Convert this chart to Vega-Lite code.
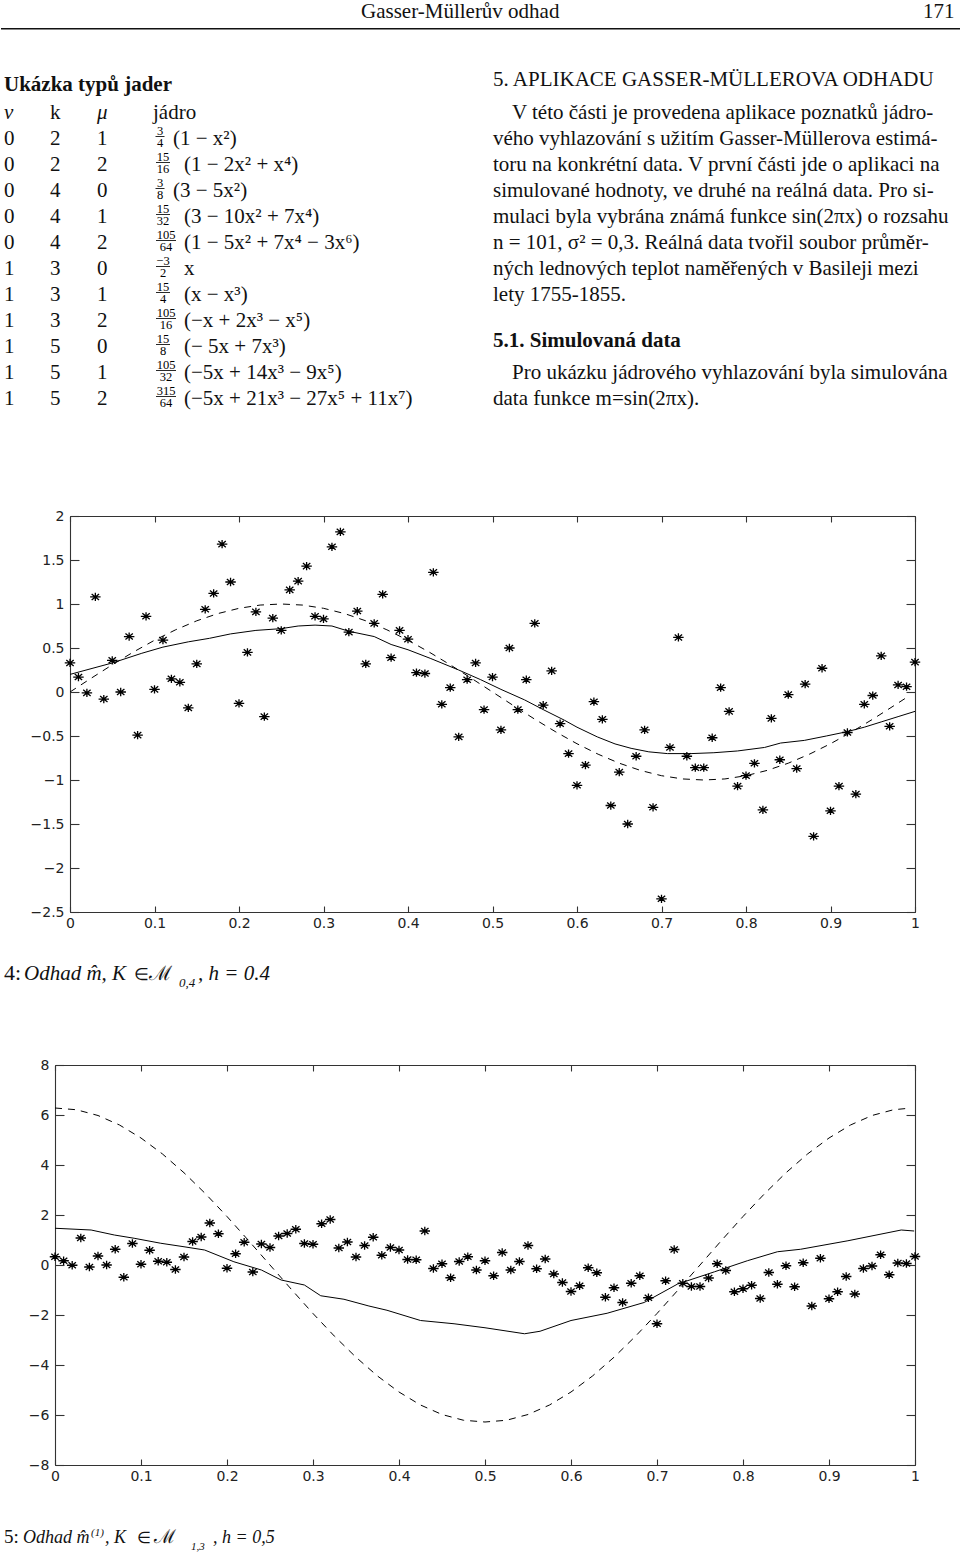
{
  "$schema": "https://vega.github.io/schema/vega-lite/v6.json",
  "padding": 0,
  "background": "white",
  "spacing": 0,
  "bounds": "flush",
  "config": {
    "view": {"stroke": null},
    "text": {"font": "Liberation Serif", "color": "#111"},
    "axis": {"grid": false, "title": null, "domainColor": "#333", "tickColor": "#333", "labelFont": "DejaVu Sans", "labelFontSize": 14, "labelColor": "#222", "labelFlush": false, "labelOverlap": false, "labelBound": false, "domainWidth": 1.1, "tickWidth": 1.1},
    "axisX": {"tickSize": -6, "labelPadding": 10},
    "axisY": {"tickSize": -9, "labelPadding": 15}
  },
  "datasets": {
    "obs": [
      {"x":0.00,"y":0.33},{"x":0.01,"y":0.17},{"x":0.02,"y":-0.01},{"x":0.03,"y":1.08},{"x":0.04,"y":-0.08},
      {"x":0.05,"y":0.36},{"x":0.06,"y":0.00},{"x":0.07,"y":0.63},{"x":0.08,"y":-0.49},{"x":0.09,"y":0.86},
      {"x":0.10,"y":0.03},{"x":0.11,"y":0.59},{"x":0.12,"y":0.15},{"x":0.13,"y":0.11},{"x":0.14,"y":-0.18},
      {"x":0.15,"y":0.32},{"x":0.16,"y":0.94},{"x":0.17,"y":1.12},{"x":0.18,"y":1.68},{"x":0.19,"y":1.25},
      {"x":0.20,"y":-0.13},{"x":0.21,"y":0.45},{"x":0.22,"y":0.91},{"x":0.23,"y":-0.28},{"x":0.24,"y":0.84},
      {"x":0.25,"y":0.70},{"x":0.26,"y":1.16},{"x":0.27,"y":1.26},{"x":0.28,"y":1.43},{"x":0.29,"y":0.86},
      {"x":0.30,"y":0.83},{"x":0.31,"y":1.65},{"x":0.32,"y":1.82},{"x":0.33,"y":0.68},{"x":0.34,"y":0.92},
      {"x":0.35,"y":0.32},{"x":0.36,"y":0.78},{"x":0.37,"y":1.11},{"x":0.38,"y":0.39},{"x":0.39,"y":0.70},
      {"x":0.40,"y":0.60},{"x":0.41,"y":0.22},{"x":0.42,"y":0.21},{"x":0.43,"y":1.36},{"x":0.44,"y":-0.14},
      {"x":0.45,"y":0.05},{"x":0.46,"y":-0.51},{"x":0.47,"y":0.14},{"x":0.48,"y":0.33},{"x":0.49,"y":-0.20},
      {"x":0.50,"y":0.17},{"x":0.51,"y":-0.43},{"x":0.52,"y":0.50},{"x":0.53,"y":-0.20},{"x":0.54,"y":0.14},
      {"x":0.55,"y":0.78},{"x":0.56,"y":-0.15},{"x":0.57,"y":0.24},{"x":0.58,"y":-0.36},{"x":0.59,"y":-0.70},
      {"x":0.60,"y":-1.06},{"x":0.61,"y":-0.83},{"x":0.62,"y":-0.11},{"x":0.63,"y":-0.31},{"x":0.64,"y":-1.29},
      {"x":0.65,"y":-0.91},{"x":0.66,"y":-1.50},{"x":0.67,"y":-0.73},{"x":0.68,"y":-0.43},{"x":0.69,"y":-1.31},
      {"x":0.70,"y":-2.35},{"x":0.71,"y":-0.63},{"x":0.72,"y":0.62},{"x":0.73,"y":-0.73},{"x":0.74,"y":-0.86},
      {"x":0.75,"y":-0.86},{"x":0.76,"y":-0.52},{"x":0.77,"y":0.05},{"x":0.78,"y":-0.22},{"x":0.79,"y":-1.07},
      {"x":0.80,"y":-0.95},{"x":0.81,"y":-0.81},{"x":0.82,"y":-1.34},{"x":0.83,"y":-0.30},{"x":0.84,"y":-0.77},
      {"x":0.85,"y":-0.03},{"x":0.86,"y":-0.87},{"x":0.87,"y":0.09},{"x":0.88,"y":-1.64},{"x":0.89,"y":0.27},
      {"x":0.90,"y":-1.35},{"x":0.91,"y":-1.07},{"x":0.92,"y":-0.46},{"x":0.93,"y":-1.16},{"x":0.94,"y":-0.14},
      {"x":0.95,"y":-0.04},{"x":0.96,"y":0.41},{"x":0.97,"y":-0.39},{"x":0.98,"y":0.08},{"x":0.99,"y":0.06},
      {"x":1.00,"y":0.34}
    ],
    "fit1": [
      {"x":0,"y":0.20},{"x":0.05,"y":0.33},{"x":0.085,"y":0.44},{"x":0.11,"y":0.51},{"x":0.14,"y":0.57},
      {"x":0.165,"y":0.61},{"x":0.19,"y":0.66},{"x":0.22,"y":0.70},{"x":0.25,"y":0.72},{"x":0.27,"y":0.75},
      {"x":0.29,"y":0.76},{"x":0.31,"y":0.75},{"x":0.33,"y":0.69},{"x":0.36,"y":0.63},{"x":0.38,"y":0.54},
      {"x":0.40,"y":0.48},{"x":0.427,"y":0.38},{"x":0.46,"y":0.25},{"x":0.486,"y":0.14},{"x":0.51,"y":0.03},
      {"x":0.538,"y":-0.09},{"x":0.56,"y":-0.20},{"x":0.585,"y":-0.32},{"x":0.60,"y":-0.40},{"x":0.624,"y":-0.51},
      {"x":0.645,"y":-0.59},{"x":0.664,"y":-0.64},{"x":0.685,"y":-0.68},{"x":0.707,"y":-0.70},{"x":0.735,"y":-0.70},
      {"x":0.762,"y":-0.69},{"x":0.79,"y":-0.67},{"x":0.822,"y":-0.63},{"x":0.841,"y":-0.58},{"x":0.869,"y":-0.55},
      {"x":0.895,"y":-0.50},{"x":0.92,"y":-0.45},{"x":0.94,"y":-0.40},{"x":0.96,"y":-0.34},{"x":0.98,"y":-0.28},
      {"x":1.0,"y":-0.22}
    ],
    "true1": [
      {"x":0,"y":0},{"x":0.025,"y":0.156},{"x":0.05,"y":0.309},{"x":0.075,"y":0.454},{"x":0.1,"y":0.588},
      {"x":0.125,"y":0.707},{"x":0.15,"y":0.809},{"x":0.175,"y":0.891},{"x":0.2,"y":0.951},{"x":0.225,"y":0.988},
      {"x":0.25,"y":1.0},{"x":0.275,"y":0.988},{"x":0.3,"y":0.951},{"x":0.325,"y":0.891},{"x":0.35,"y":0.809},
      {"x":0.375,"y":0.707},{"x":0.4,"y":0.588},{"x":0.425,"y":0.454},{"x":0.45,"y":0.309},{"x":0.475,"y":0.156},
      {"x":0.5,"y":0},{"x":0.525,"y":-0.156},{"x":0.55,"y":-0.309},{"x":0.575,"y":-0.454},{"x":0.6,"y":-0.588},
      {"x":0.625,"y":-0.707},{"x":0.65,"y":-0.809},{"x":0.675,"y":-0.891},{"x":0.7,"y":-0.951},{"x":0.725,"y":-0.988},
      {"x":0.75,"y":-1.0},{"x":0.775,"y":-0.988},{"x":0.8,"y":-0.951},{"x":0.825,"y":-0.891},{"x":0.85,"y":-0.809},
      {"x":0.875,"y":-0.707},{"x":0.9,"y":-0.588},{"x":0.925,"y":-0.454},{"x":0.95,"y":-0.309},{"x":0.975,"y":-0.156},
      {"x":0.99,"y":-0.063}
    ],
    "fit2": [
      {"x":0,"y":1.47},{"x":0.042,"y":1.40},{"x":0.069,"y":1.20},{"x":0.092,"y":1.07},{"x":0.123,"y":0.87},
      {"x":0.15,"y":0.73},{"x":0.174,"y":0.60},{"x":0.208,"y":0.13},{"x":0.24,"y":-0.20},{"x":0.263,"y":-0.60},
      {"x":0.29,"y":-0.80},{"x":0.309,"y":-1.23},{"x":0.336,"y":-1.37},{"x":0.365,"y":-1.64},{"x":0.386,"y":-1.81},
      {"x":0.425,"y":-2.22},{"x":0.464,"y":-2.35},{"x":0.5,"y":-2.51},{"x":0.546,"y":-2.75},{"x":0.564,"y":-2.65},
      {"x":0.6,"y":-2.22},{"x":0.642,"y":-1.93},{"x":0.685,"y":-1.50},{"x":0.724,"y":-0.76},{"x":0.767,"y":-0.27},
      {"x":0.805,"y":0.17},{"x":0.84,"y":0.53},{"x":0.867,"y":0.63},{"x":0.922,"y":0.97},{"x":0.984,"y":1.40},
      {"x":0.999,"y":1.36}
    ],
    "true2": [
      {"x":0,"y":6.28},{"x":0.025,"y":6.21},{"x":0.05,"y":5.98},{"x":0.075,"y":5.60},{"x":0.1,"y":5.08},
      {"x":0.125,"y":4.44},{"x":0.15,"y":3.69},{"x":0.175,"y":2.85},{"x":0.2,"y":1.94},{"x":0.225,"y":0.98},
      {"x":0.25,"y":0},{"x":0.275,"y":-0.98},{"x":0.3,"y":-1.94},{"x":0.325,"y":-2.85},{"x":0.35,"y":-3.69},
      {"x":0.375,"y":-4.44},{"x":0.4,"y":-5.08},{"x":0.425,"y":-5.60},{"x":0.45,"y":-5.98},{"x":0.475,"y":-6.21},
      {"x":0.5,"y":-6.28},{"x":0.525,"y":-6.21},{"x":0.55,"y":-5.98},{"x":0.575,"y":-5.60},{"x":0.6,"y":-5.08},
      {"x":0.625,"y":-4.44},{"x":0.65,"y":-3.69},{"x":0.675,"y":-2.85},{"x":0.7,"y":-1.94},{"x":0.725,"y":-0.98},
      {"x":0.75,"y":0},{"x":0.775,"y":0.98},{"x":0.8,"y":1.94},{"x":0.825,"y":2.85},{"x":0.85,"y":3.69},
      {"x":0.875,"y":4.44},{"x":0.9,"y":5.08},{"x":0.925,"y":5.60},{"x":0.95,"y":5.98},{"x":0.975,"y":6.21},
      {"x":0.99,"y":6.26}
    ],
    "pageRule": [{"col": -1, "col2": 13, "line": -3.45}],
    "bodyText": [
      {"col": 9, "line": -3.87, "text": "Gasser-Müllerův odhad"},
      {"col": 12, "line": -3.87, "text": "171"},
      {"col": 10, "line": -1.25, "text": "5. APLIKACE GASSER-MÜLLEROVA ODHADU"},
      {"col": 1, "line": 0, "text": "k"},
      {"col": 3, "line": 0, "text": "jádro"},
      {"col": 0, "line": 1, "text": "0"}, {"col": 1, "line": 1, "text": "2"}, {"col": 2, "line": 1, "text": "1"}, {"col": 7, "line": 1, "text": "(1 − x²)"},
      {"col": 0, "line": 2, "text": "0"}, {"col": 1, "line": 2, "text": "2"}, {"col": 2, "line": 2, "text": "2"}, {"col": 8, "line": 2, "text": "(1 − 2x² + x⁴)"},
      {"col": 0, "line": 3, "text": "0"}, {"col": 1, "line": 3, "text": "4"}, {"col": 2, "line": 3, "text": "0"}, {"col": 7, "line": 3, "text": "(3 − 5x²)"},
      {"col": 0, "line": 4, "text": "0"}, {"col": 1, "line": 4, "text": "4"}, {"col": 2, "line": 4, "text": "1"}, {"col": 8, "line": 4, "text": "(3 − 10x² + 7x⁴)"},
      {"col": 0, "line": 5, "text": "0"}, {"col": 1, "line": 5, "text": "4"}, {"col": 2, "line": 5, "text": "2"}, {"col": 8, "line": 5, "text": "(1 − 5x² + 7x⁴ − 3x⁶)"},
      {"col": 0, "line": 6, "text": "1"}, {"col": 1, "line": 6, "text": "3"}, {"col": 2, "line": 6, "text": "0"}, {"col": 8, "line": 6, "text": "x"},
      {"col": 0, "line": 7, "text": "1"}, {"col": 1, "line": 7, "text": "3"}, {"col": 2, "line": 7, "text": "1"}, {"col": 8, "line": 7, "text": "(x − x³)"},
      {"col": 0, "line": 8, "text": "1"}, {"col": 1, "line": 8, "text": "3"}, {"col": 2, "line": 8, "text": "2"}, {"col": 8, "line": 8, "text": "(−x + 2x³ − x⁵)"},
      {"col": 0, "line": 9, "text": "1"}, {"col": 1, "line": 9, "text": "5"}, {"col": 2, "line": 9, "text": "0"}, {"col": 8, "line": 9, "text": "(− 5x + 7x³)"},
      {"col": 0, "line": 10, "text": "1"}, {"col": 1, "line": 10, "text": "5"}, {"col": 2, "line": 10, "text": "1"}, {"col": 8, "line": 10, "text": "(−5x + 14x³ − 9x⁵)"},
      {"col": 0, "line": 11, "text": "1"}, {"col": 1, "line": 11, "text": "5"}, {"col": 2, "line": 11, "text": "2"}, {"col": 8, "line": 11, "text": "(−5x + 21x³ − 27x⁵ + 11x⁷)"},
      {"col": 11, "line": 0, "text": "V této části je provedena aplikace poznatků jádro-"},
      {"col": 10, "line": 1, "text": "vého vyhlazování s užitím Gasser-Müllerova estimá-"},
      {"col": 10, "line": 2, "text": "toru na konkrétní data. V první části jde o aplikaci na"},
      {"col": 10, "line": 3, "text": "simulované hodnoty, ve druhé na reálná data. Pro si-"},
      {"col": 10, "line": 4, "text": "mulaci byla vybrána známá funkce sin(2πx) o rozsahu"},
      {"col": 10, "line": 5, "text": "n = 101, σ² = 0,3. Reálná data tvořil soubor průměr-"},
      {"col": 10, "line": 6, "text": "ných lednových teplot naměřených v Basileji mezi"},
      {"col": 10, "line": 7, "text": "lety 1755-1855."},
      {"col": 11, "line": 10, "text": "Pro ukázku jádrového vyhlazování byla simulována"},
      {"col": 10, "line": 11, "text": "data funkce m=sin(2πx)."}
    ],
    "boldText": [
      {"col": 0, "line": -1.05, "text": "Ukázka typů jader"},
      {"col": 10, "line": 8.8, "text": "5.1. Simulovaná data"}
    ],
    "italicText": [
      {"col": 0, "line": 0, "text": "ν"},
      {"col": 2, "line": 0, "text": "μ"}
    ],
    "fracs": [
      {"line": 1, "col": 4, "fw": 1, "num": "3", "den": "4"},
      {"line": 2, "col": 5, "fw": 2, "num": "15", "den": "16"},
      {"line": 3, "col": 4, "fw": 1, "num": "3", "den": "8"},
      {"line": 4, "col": 5, "fw": 2, "num": "15", "den": "32"},
      {"line": 5, "col": 6, "fw": 3, "num": "105", "den": "64"},
      {"line": 6, "col": 5, "fw": 2, "num": "−3", "den": "2"},
      {"line": 7, "col": 5, "fw": 2, "num": "15", "den": "4"},
      {"line": 8, "col": 6, "fw": 3, "num": "105", "den": "16"},
      {"line": 9, "col": 5, "fw": 2, "num": "15", "den": "8"},
      {"line": 10, "col": 6, "fw": 3, "num": "105", "den": "32"},
      {"line": 11, "col": 6, "fw": 3, "num": "315", "den": "64"}
    ],
    "cap1Upright": [{"col": 0, "line": 0, "text": "4:"}],
    "cap1Italic": [{"col": 1, "line": 0, "text": "Odhad m̂, K"}, {"col": 5, "line": 0, "text": ", h = 0.4"}],
    "cap1Symbol": [{"col": 2, "line": 0, "text": "∈"}],
    "cap1Script": [{"col": 3, "line": 0, "text": "ℳ"}],
    "cap1Small": [{"col": 4, "line": 1, "text": "0,4"}],
    "cap2Upright": [{"col": 0, "line": 1, "text": "5:"}],
    "cap2Italic": [{"col": 1, "line": 1, "text": "Odhad m̂"}, {"col": 3, "line": 1, "text": ", K"}, {"col": 7, "line": 1, "text": ", h = 0,5"}],
    "cap2Symbol": [{"col": 4, "line": 1, "text": "∈"}],
    "cap2Script": [{"col": 5, "line": 1, "text": "ℳ"}],
    "cap2Small": [{"col": 2, "line": 0, "text": "(1)"}, {"col": 6, "line": 2, "text": "1,3"}]
  },
  "vconcat": [
    {
      "width": 960,
      "height": 516,
      "encoding": {
        "x": {"field": "col", "type": "quantitative", "axis": null,
              "scale": {"domain": [-1,0,1,2,3,4,5,6,7,8,9,10,11,12,13], "range": [0,3,49,96,152,159,162,165,172,183,360,492,511,922,960], "nice": false, "zero": false}},
        "y": {"field": "line", "type": "quantitative", "axis": null,
              "scale": {"domain": [0, 11], "range": [118.5, 404.5], "nice": false, "zero": false}}
      },
      "layer": [
        {"data": {"name": "pageRule"}, "mark": {"type": "rule", "color": "#111", "strokeWidth": 1.6}, "encoding": {"x2": {"field": "col2"}}},
        {"data": {"name": "bodyText"}, "mark": {"type": "text", "align": "left", "baseline": "alphabetic", "fontSize": 21, "fill": "#111"}, "encoding": {"text": {"field": "text"}}},
        {"data": {"name": "boldText"}, "mark": {"type": "text", "align": "left", "baseline": "alphabetic", "fontSize": 21, "fontWeight": "bold", "fill": "#111"}, "encoding": {"text": {"field": "text"}}},
        {"data": {"name": "italicText"}, "mark": {"type": "text", "align": "left", "baseline": "alphabetic", "fontSize": 21, "fontStyle": "italic", "fill": "#111"}, "encoding": {"text": {"field": "text"}}},
        {"data": {"name": "fracs"}, "mark": {"type": "text", "align": "center", "baseline": "alphabetic", "fontSize": 12.5, "dy": -10, "fill": "#000", "fillOpacity": 1}, "encoding": {"text": {"field": "num"}}},
        {"data": {"name": "fracs"}, "mark": {"type": "text", "align": "center", "baseline": "alphabetic", "fontSize": 12.5, "dy": 2, "fill": "#000", "fillOpacity": 1}, "encoding": {"text": {"field": "den"}}},
        {"data": {"name": "fracs"}, "mark": {"type": "tick", "orient": "horizontal", "thickness": 0.9, "color": "#111", "opacity": 1, "yOffset": -8},
         "encoding": {"size": {"field": "fw", "type": "quantitative", "legend": null, "scale": {"domain": [1, 2, 3], "range": [9, 14, 20], "zero": false}}}}
      ]
    },
    {
      "width": 960,
      "height": 396,
      "layer": [
        {"data": {"name": "obs"},
         "mark": {"type": "point", "shape": "M-1.2,0L1.2,0M0,-0.95L0,0.95M-0.85,-0.7L0.85,0.7M-0.85,0.7L0.85,-0.7", "filled": false, "stroke": "#000", "strokeWidth": 1.3, "size": 76, "opacity": 1},
         "encoding": {
           "x": {"field": "x", "type": "quantitative", "scale": {"domain": [0, 1], "range": [69, 914], "nice": false, "zero": false},
                 "axis": {"orient": "bottom", "values": [0,0.1,0.2,0.3,0.4,0.5,0.6,0.7,0.8,0.9,1], "format": "~g"}},
           "y": {"field": "y", "type": "quantitative", "scale": {"domain": [-2.5, 2], "nice": false, "zero": false},
                 "axis": {"orient": "left", "offset": -69, "values": [-2.5,-2,-1.5,-1,-0.5,0,0.5,1,1.5,2], "format": "~g"}}
         }},
        {"data": {"name": "fit1"},
         "mark": {"type": "line", "color": "#000", "strokeWidth": 1},
         "encoding": {
           "x": {"field": "x", "type": "quantitative", "axis": {"orient": "top", "labels": false, "values": [0,0.1,0.2,0.3,0.4,0.5,0.6,0.7,0.8,0.9,1]}},
           "y": {"field": "y", "type": "quantitative", "axis": {"orient": "right", "offset": -46, "labels": false, "values": [-2.5,-2,-1.5,-1,-0.5,0,0.5,1,1.5,2]}}
         }},
        {"data": {"name": "true1"},
         "mark": {"type": "line", "color": "#000", "strokeWidth": 1, "strokeDash": [7, 6]},
         "encoding": {
           "x": {"field": "x", "type": "quantitative", "axis": null},
           "y": {"field": "y", "type": "quantitative", "axis": null}
         }}
      ]
    },
    {
      "width": 960,
      "height": 153,
      "encoding": {
        "x": {"field": "col", "type": "quantitative", "axis": null, "scale": {"domain": [0, 1, 2, 3, 4, 5], "range": [3, 23, 133, 148, 178, 197], "nice": false, "zero": false}},
        "y": {"field": "line", "type": "quantitative", "axis": null, "scale": {"domain": [0, 1], "range": [67.5, 75], "nice": false, "zero": false}}
      },
      "layer": [
        {"data": {"name": "cap1Upright"}, "mark": {"type": "text", "align": "left", "baseline": "alphabetic", "fontSize": 22, "fill": "#111"}, "encoding": {"text": {"field": "text"}}},
        {"data": {"name": "cap1Italic"}, "mark": {"type": "text", "align": "left", "baseline": "alphabetic", "fontSize": 21, "fontStyle": "italic", "fill": "#111"}, "encoding": {"text": {"field": "text"}}},
        {"data": {"name": "cap1Symbol"}, "mark": {"type": "text", "align": "left", "baseline": "alphabetic", "fontSize": 17, "fill": "#111"}, "encoding": {"text": {"field": "text"}}},
        {"data": {"name": "cap1Script"}, "mark": {"type": "text", "align": "left", "baseline": "alphabetic", "fontSize": 20, "fill": "#111"}, "encoding": {"text": {"field": "text"}}},
        {"data": {"name": "cap1Small"}, "mark": {"type": "text", "align": "left", "baseline": "alphabetic", "fontSize": 13, "fontStyle": "italic", "fill": "#111"}, "encoding": {"text": {"field": "text"}}}
      ]
    },
    {
      "width": 960,
      "height": 400,
      "layer": [
        {"data": {"name": "obs"},
         "mark": {"type": "point", "shape": "M-1.2,0L1.2,0M0,-0.95L0,0.95M-0.85,-0.7L0.85,0.7M-0.85,0.7L0.85,-0.7", "filled": false, "stroke": "#000", "strokeWidth": 1.3, "size": 76, "opacity": 1},
         "encoding": {
           "x": {"field": "x", "type": "quantitative", "scale": {"domain": [0, 1], "range": [54, 914], "nice": false, "zero": false},
                 "axis": {"orient": "bottom", "values": [0,0.1,0.2,0.3,0.4,0.5,0.6,0.7,0.8,0.9,1], "format": "~g"}},
           "y": {"field": "y", "type": "quantitative", "scale": {"domain": [-8, 8], "nice": false, "zero": false},
                 "axis": {"orient": "left", "offset": -54, "values": [-8,-6,-4,-2,0,2,4,6,8], "format": "d"}}
         }},
        {"data": {"name": "fit2"},
         "mark": {"type": "line", "color": "#000", "strokeWidth": 1},
         "encoding": {
           "x": {"field": "x", "type": "quantitative", "axis": {"orient": "top", "labels": false, "values": [0,0.1,0.2,0.3,0.4,0.5,0.6,0.7,0.8,0.9,1]}},
           "y": {"field": "y", "type": "quantitative", "axis": {"orient": "right", "offset": -46, "labels": false, "values": [-8,-6,-4,-2,0,2,4,6,8]}}
         }},
        {"data": {"name": "true2"},
         "mark": {"type": "line", "color": "#000", "strokeWidth": 1, "strokeDash": [7, 6]},
         "encoding": {
           "x": {"field": "x", "type": "quantitative", "axis": null},
           "y": {"field": "y", "type": "quantitative", "axis": null}
         }}
      ]
    },
    {
      "width": 960,
      "height": 88,
      "encoding": {
        "x": {"field": "col", "type": "quantitative", "axis": null, "scale": {"domain": [0, 1, 2, 3, 4, 5, 6, 7], "range": [3, 22, 90, 104, 136, 153, 190, 212], "nice": false, "zero": false}},
        "y": {"field": "line", "type": "quantitative", "axis": null, "scale": {"domain": [0, 1, 2], "range": [71, 78, 85], "nice": false, "zero": false}}
      },
      "layer": [
        {"data": {"name": "cap2Upright"}, "mark": {"type": "text", "align": "left", "baseline": "alphabetic", "fontSize": 19, "fill": "#111"}, "encoding": {"text": {"field": "text"}}},
        {"data": {"name": "cap2Italic"}, "mark": {"type": "text", "align": "left", "baseline": "alphabetic", "fontSize": 18, "fontStyle": "italic", "fill": "#111"}, "encoding": {"text": {"field": "text"}}},
        {"data": {"name": "cap2Symbol"}, "mark": {"type": "text", "align": "left", "baseline": "alphabetic", "fontSize": 16, "fill": "#111"}, "encoding": {"text": {"field": "text"}}},
        {"data": {"name": "cap2Script"}, "mark": {"type": "text", "align": "left", "baseline": "alphabetic", "fontSize": 19, "fill": "#111"}, "encoding": {"text": {"field": "text"}}},
        {"data": {"name": "cap2Small"}, "mark": {"type": "text", "align": "left", "baseline": "alphabetic", "fontSize": 11, "fontStyle": "italic", "fill": "#111"}, "encoding": {"text": {"field": "text"}}}
      ]
    }
  ]
}
